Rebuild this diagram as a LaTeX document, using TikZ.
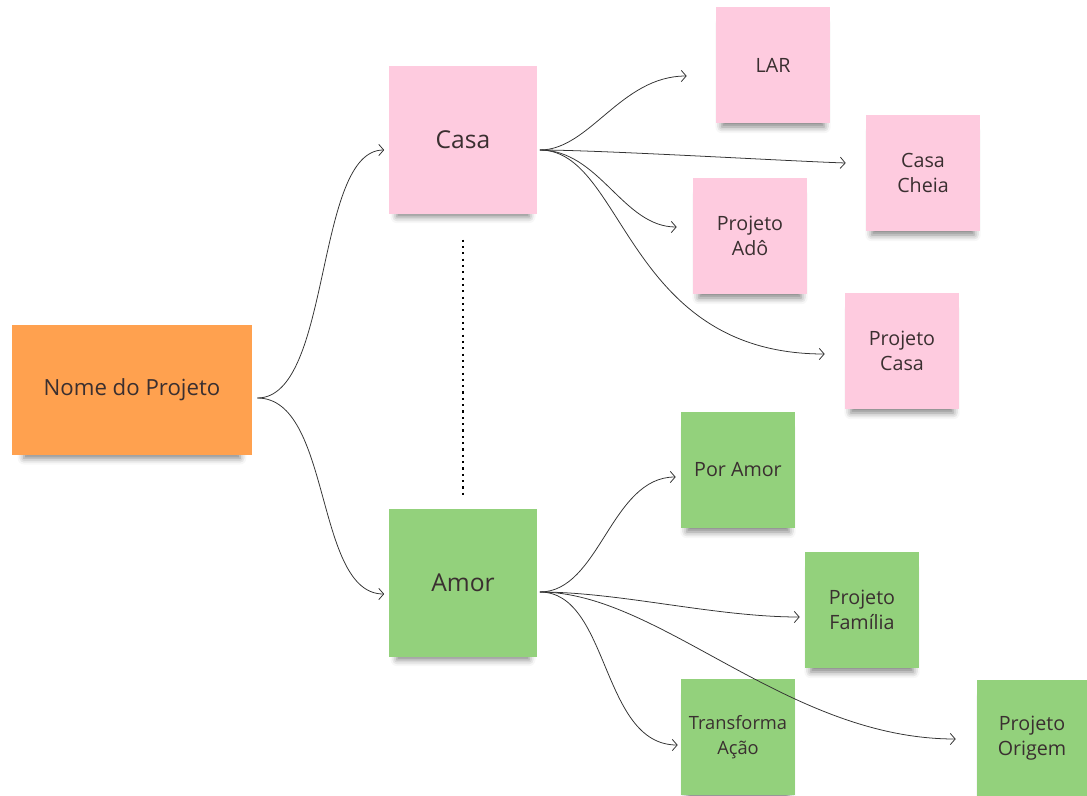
\documentclass[tikz,border=0pt]{standalone}
\usepackage{fontspec}
\setmainfont{Open Sans}
\usetikzlibrary{calc}
\usetikzlibrary{arrows.meta}
\usetikzlibrary{shadows.blur}

\definecolor{laranja}{HTML}{FFA14F}
\definecolor{rosa}{HTML}{FECBDF}
\definecolor{verde}{HTML}{93D17C}
\definecolor{tinta}{HTML}{3A2F30}

\begin{document}
\begin{tikzpicture}[x=0.025cm,y=-0.025cm,inner sep=0pt,>={Straight Barb[length=3.5pt,width=8pt]},
  postit/.style={align=center,text=tinta,
    blur shadow={shadow xshift=0pt,shadow yshift=-8pt,shadow scale=0.9,shadow opacity=50,shadow blur radius=5pt}},
  pequeno/.style={postit,minimum width=2.85cm,minimum height=2.875cm,font=\fontsize{14}{17.8}\selectfont},
  grande/.style={postit,minimum width=3.675cm,minimum height=3.7cm,font=\fontsize{17.5}{21}\selectfont},
  liga/.style={->,draw=black!80,line width=.55pt}]
\useasboundingbox (0,0) rectangle (1087,796);
% notas
\draw node [postit,fill=laranja,minimum width=6cm,minimum height=3.225cm,font=\fontsize{15.8}{19}\selectfont] (nome) at (132,390) {Nome do Projeto};
\draw node [grande,fill=rosa] (casa) at (463,140) {Casa};
\draw node [grande,fill=verde] (amor) at (463,583) {Amor};
\draw node [pequeno,fill=rosa] (lar) at (773,65) {LAR};
\draw node [pequeno,fill=rosa] (cheia) at (923,173) {Casa\\Cheia};
\draw node [pequeno,fill=rosa] (ado) at (750,236) {Projeto\\Adô};
\draw node [pequeno,fill=rosa] (pcasa) at (902,351) {Projeto\\Casa};
\draw node [pequeno,fill=verde] (poramor) at (738,470) {Por Amor};
\draw node [pequeno,fill=verde] (familia) at (862,610) {Projeto\\Família};
\draw node [pequeno,fill=verde,font=\fontsize{13}{17.8}\selectfont] (transf) at (738,737) {Transforma\\Ação};
\draw node [pequeno,fill=verde,minimum width=2.75cm] (origem) at (1032,738) {Projeto\\Origem};
% ligacoes
\coordinate (n0) at ($ (nome.east) + (5,8) $);
\coordinate (c0) at ($ (casa.east) + (3,10) $);
\coordinate (a0) at ($ (amor.east) + (3,9) $);
\draw [liga] (n0) .. controls ($ (n0) + (75,0) $) and ($ (casa.west) + (-75,10) $) .. ($ (casa.west) + (-5,10) $);
\draw [liga] (n0) .. controls ($ (n0) + (75,0) $) and ($ (amor.west) + (-75,11) $) .. ($ (amor.west) + (-5,11) $);
\draw [liga] (c0) .. controls ($ (c0) + (50,0) $) and ($ (lar.west) + (-95,11) $) .. ($ (lar.west) + (-29,11) $);
\draw [liga] (c0) .. controls ($ (c0) + (60,0) $) and ($ (cheia.west) + (-80,-12) $) .. ($ (cheia.west) + (-20,-10) $);
\draw [liga] (c0) .. controls ($ (c0) + (60,0) $) and ($ (ado.west) + (-70,-9) $) .. ($ (ado.west) + (-16,-9) $);
\draw [liga] (c0) .. controls ($ (c0) + (85,0) $) and ($ (pcasa.west) + (-220,3) $) .. ($ (pcasa.west) + (-20,3) $);
\draw [liga] (a0) .. controls ($ (a0) + (60,0) $) and ($ (poramor.west) + (-70,7) $) .. ($ (poramor.west) + (-5,7) $);
\draw [liga] (a0) .. controls ($ (a0) + (80,0) $) and ($ (familia.west) + (-90,7) $) .. ($ (familia.west) + (-5,7) $);
\draw [liga] (a0) .. controls ($ (a0) + (70,0) $) and ($ (transf.west) + (-80,8) $) .. ($ (transf.west) + (-3,8) $);
\draw [liga] (a0) .. controls ($ (a0) + (120,0) $) and ($ (origem.west) + (-190,1) $) .. ($ (origem.west) + (-21,1) $);
\draw [line width=1.5pt,dash pattern=on 1.5pt off 3pt,shorten <=18pt,shorten >=7pt] (casa.south) -- (amor.north);
\end{tikzpicture}
\end{document}
